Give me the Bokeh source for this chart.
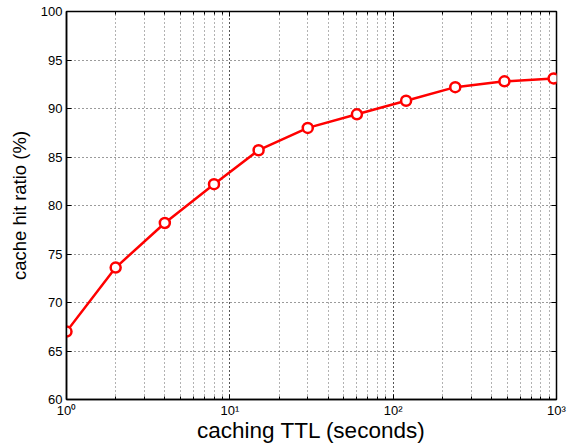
from bokeh.plotting import figure
from bokeh.models import (LogAxis, LinearAxis, FixedTicker, LogTicker,
                          CustomJSTickFormatter, Range1d, ColumnDataSource)
from bokeh.embed import file_html
from bokeh.resources import INLINE

# cache TTL (seconds) vs. hit ratio (%)
ttl_seconds = [1, 2, 4, 8, 15, 30, 60, 120, 240, 480, 960]
hit_ratio = [67.0, 73.6, 78.2, 82.2, 85.7, 88.0, 89.4, 90.8, 92.2, 92.8, 93.1]
y_ticks = [60, 65, 70, 75, 80, 85, 90, 95, 100]

FONT = "Liberation Sans"

p = figure(width=568, height=447, x_axis_type="log",
           x_range=Range1d(1, 1000), y_range=Range1d(60, 100),
           output_backend="svg", toolbar_location=None,
           min_border_left=66, min_border_right=12,
           min_border_top=11, min_border_bottom=48)
p.outline_line_color = "black"
p.outline_line_width = 1.5
p.background_fill_color = "white"
p.border_fill_color = "white"

sup_fmt = CustomJSTickFormatter(code="""
const sup = {'0':'\u2070','1':'\u00b9','2':'\u00b2','3':'\u00b3','4':'\u2074','5':'\u2075','6':'\u2076','7':'\u2077','8':'\u2078','9':'\u2079','-':'\u207b'};
const e = Math.round(Math.log10(tick));
return '10' + String(e).split('').map(c => sup[c]).join('');
""")

xa = p.xaxis[0]
xa.ticker = LogTicker(desired_num_ticks=4, num_minor_ticks=10)
xa.formatter = sup_fmt
ya = p.yaxis[0]
ya.ticker = FixedTicker(ticks=y_ticks)

for ax in (xa, ya):
    ax.major_tick_in = 5
    ax.major_tick_out = 0
    ax.minor_tick_in = 3
    ax.minor_tick_out = 0
    ax.axis_line_color = "black"
    ax.axis_line_width = 1.5
    ax.major_tick_line_color = "black"
    ax.minor_tick_line_color = "black"
    ax.major_label_text_font = FONT
    ax.major_label_text_font_size = "13px"
    ax.major_label_text_color = "black"
    ax.axis_label_text_font = FONT
    ax.axis_label_text_font_style = "normal"
    ax.axis_label_text_color = "black"
ya.minor_tick_line_color = None
xa.major_label_standoff = 3
ya.major_label_standoff = 4
xa.axis_label = "caching TTL (seconds)"
ya.axis_label = "cache hit ratio (%)"
xa.axis_label_text_font_size = "22.5px"
ya.axis_label_text_font_size = "18.5px"
xa.axis_label_standoff = -3
ya.axis_label_standoff = 8

# mirrored ticks along top and right edges (labels hidden)
top = LogAxis(ticker=LogTicker(desired_num_ticks=4, num_minor_ticks=10),
              major_label_text_font_size="1px", major_label_text_color=None,
              axis_line_color=None,
              major_tick_in=5, major_tick_out=0, minor_tick_in=3, minor_tick_out=0,
              major_label_standoff=0)
right = LinearAxis(ticker=FixedTicker(ticks=y_ticks),
                   major_label_text_font_size="1px", major_label_text_color=None,
                   axis_line_color=None,
                   major_tick_in=5, major_tick_out=0, minor_tick_line_color=None,
                   major_label_standoff=0)
p.add_layout(top, "above")
p.add_layout(right, "right")

for g in (p.xgrid[0], p.ygrid[0]):
    g.grid_line_color = "#222222"
    g.grid_line_dash = "1 3"
    g.grid_line_width = 1
    g.grid_line_alpha = 0.9
p.xgrid[0].minor_grid_line_color = "#222222"
p.xgrid[0].minor_grid_line_dash = "1 3"
p.xgrid[0].minor_grid_line_alpha = 0.7
p.ygrid[0].ticker = FixedTicker(ticks=y_ticks)

src = ColumnDataSource(data=dict(x=ttl_seconds, y=hit_ratio))
p.line("x", "y", source=src, line_color="red", line_width=2.5)
p.scatter("x", "y", source=src, marker="circle", size=10,
          line_color="red", line_width=2.5, fill_color="white")

open("out.html", "w").write(file_html(p, INLINE))
